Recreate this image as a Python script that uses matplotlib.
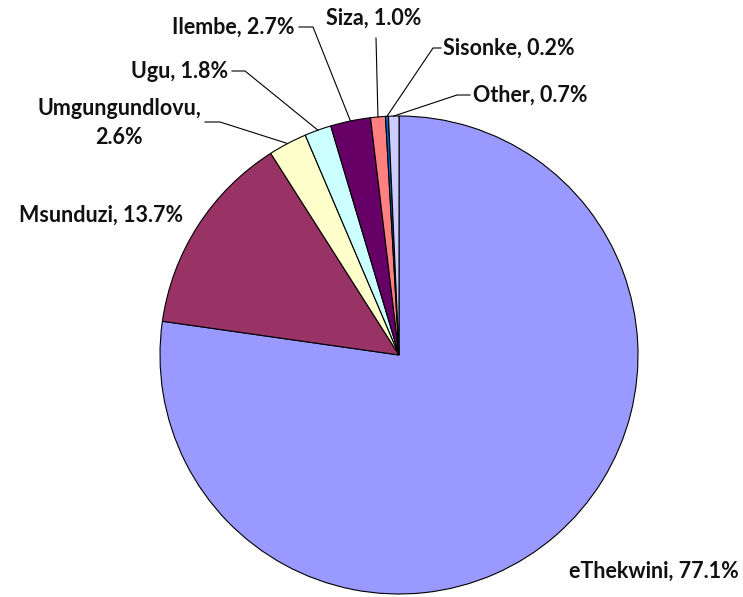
import numpy as np
import matplotlib
matplotlib.use("Agg")
import matplotlib.pyplot as plt

# share of total per district (percent), clockwise from 12 o'clock
districts = ["eThekwini", "Msunduzi", "Umgungundlovu", "Ugu", "Ilembe",
             "Siza", "Sisonke", "Other"]
shares = [77.1, 13.7, 2.6, 1.8, 2.7, 1.0, 0.2, 0.7]
colors = ["#9999FF", "#993366", "#FFFFCC", "#CCFFFF", "#660066",
          "#FF8080", "#0066CC", "#CCCCFF"]

W, H = 743, 597
CX, CY, R = 399, 355, 239  # pie centre / radius in pixels

fig = plt.figure(figsize=(W / 100, H / 100), dpi=100)
ax = fig.add_axes([(CX - R) / W, (H - CY - R) / H, 2 * R / W, 2 * R / H])

wedges, _ = ax.pie(shares, colors=colors, startangle=90, counterclock=False,
                   radius=1, wedgeprops=dict(edgecolor="black", linewidth=0.8))
# pie() sets its own limits, override afterwards
ax.set_xlim(-1, 1)
ax.set_ylim(-1, 1)
ax.set_aspect("equal")
ax.axis("off")

font = dict(family="Lato", weight="bold", fontsize=15.5, color="#111111")


def px(x, y):
    # pixel position -> data coordinates of the pie axes
    return (x - CX) / R, (CY - y) / R


def label(i, text, pos, ha, elbow=None, start=None):
    tx, ty = px(*pos)
    ax.text(tx, ty, text, ha=ha, va="center", clip_on=False,
            multialignment="center", linespacing=1.5, **font)
    if elbow is None:
        return
    w = wedges[i]
    ang = np.deg2rad((w.theta1 + w.theta2) / 2)
    tip = (np.cos(ang), np.sin(ang))
    sx, sy = px(*start)
    ex, ey = px(*elbow)
    ax.plot([sx, ex, tip[0]], [sy, ey, tip[1]], color="black", lw=0.8,
            clip_on=False)


label(0, "eThekwini, 77.1%", (739, 571), "right")
label(1, "Msunduzi, 13.7%", (183, 215), "right")
label(2, "Umgungundlovu,\n2.6%", (119, 123), "center", (220, 122), (205, 122))
label(3, "Ugu, 1.8%", (228, 71), "right", (245, 71), (232, 71))
label(4, "Ilembe, 2.7%", (295, 27), "right", (313, 27), (299, 27))
label(5, "Siza, 1.0%", (374, 18), "center", (376, 38), (376, 38))
label(6, "Sisonke, 0.2%", (443, 48), "left", (433, 48), (441, 48))
label(7, "Other, 0.7%", (473, 95), "left", (457, 95), (470, 95))

fig.savefig("out.png", dpi=100, facecolor="white")
